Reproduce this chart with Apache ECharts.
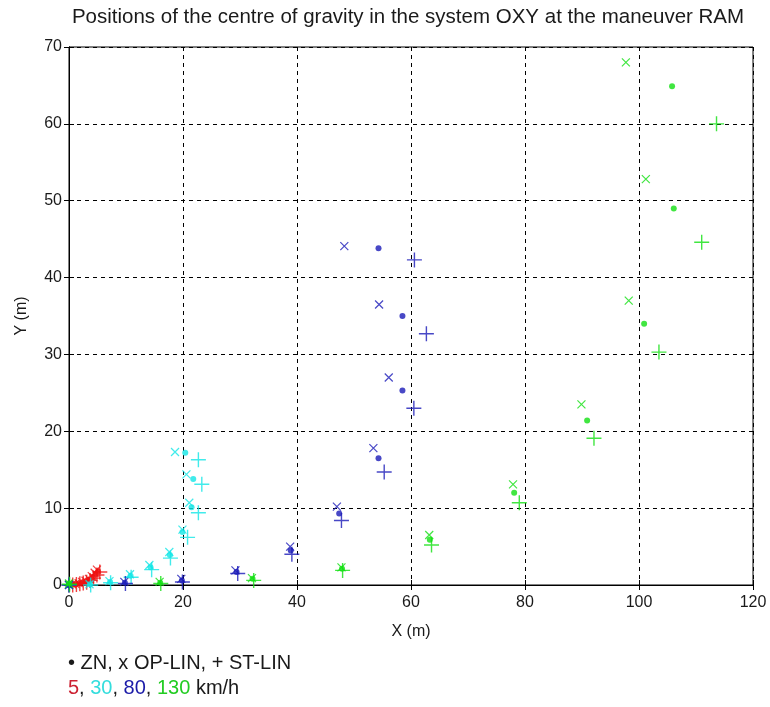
<!DOCTYPE html>
<html>
<head>
<meta charset="utf-8">
<script src="https://cdn.jsdelivr.net/npm/echarts@6/dist/echarts.min.js"></script>
<style>html,body{margin:0;padding:0;background:#fff;}#c{width:770px;height:707px;}</style>
</head>
<body>
<div id="c"></div>
<script>
// ---- data (X m, Y m) ----
var xTicks = [0, 20, 40, 60, 80, 100, 120];
var yTicks = [0, 10, 20, 30, 40, 50, 60, 70];

// 5 km/h
var red_ZN = [[0,0],[0.6,0.05],[1.2,0.1],[1.8,0.2],[2.4,0.3],[3.0,0.45],[3.6,0.7],[4.2,1.0],[4.7,1.4],[5.1,1.8]];
var red_OP = [[0,0.05],[0.55,0.1],[1.1,0.15],[1.7,0.25],[2.3,0.4],[2.9,0.55],[3.5,0.8],[4.0,1.15],[4.5,1.6],[4.9,2.0]];
var red_ST = [[0,0],[0.65,0],[1.3,0.05],[1.9,0.15],[2.5,0.25],[3.1,0.35],[3.7,0.6],[4.3,0.9],[4.9,1.3],[5.4,1.7]];
// 30 km/h
var cyan_ZN = [[0,0],[3.7,0.1],[7.2,0.4],[10.8,1.2],[14.3,2.3],[17.7,3.9],[19.9,6.9],[21.5,10.1],[21.8,13.8],[20.4,17.2]];
var cyan_OP = [[0,0],[3.6,0.1],[7.1,0.5],[10.7,1.4],[14.1,2.6],[17.6,4.3],[19.9,7.2],[21.1,10.7],[20.6,14.4],[18.6,17.3]];
var cyan_ST = [[0,0],[3.8,0],[7.3,0.3],[10.9,1.0],[14.5,2.0],[17.8,3.5],[20.8,6.2],[22.7,9.4],[23.3,13.1],[22.7,16.3]];
// 80 km/h
var blue_ZN = [[0,0],[9.8,0.3],[19.8,0.6],[29.4,1.7],[38.9,4.5],[47.4,9.3],[54.3,16.5],[58.5,25.3],[58.5,35.0],[54.3,43.8]];
var blue_OP = [[0,0],[9.7,0.4],[19.7,0.8],[29.2,1.9],[38.8,5.0],[47.0,10.2],[53.4,17.8],[56.1,27.0],[54.4,36.5],[48.3,44.1]];
var blue_ST = [[0,0],[9.9,0.2],[19.9,0.4],[29.6,1.5],[39.1,4.0],[47.8,8.4],[55.3,14.7],[60.5,23.0],[62.7,32.7],[60.6,42.3]];
// 130 km/h
var green_ZN = [[0,0.2],[16.0,0.3],[32.2,0.8],[47.9,2.1],[63.3,5.9],[78.1,12.0],[90.9,21.4],[100.9,34.0],[106.1,49.0],[105.8,64.9]];
var green_OP = [[0,0.2],[15.9,0.4],[32.1,0.9],[47.8,2.3],[63.2,6.5],[77.9,13.1],[89.9,23.5],[98.2,37.0],[101.2,52.8],[97.7,68.0]];
var green_ST = [[0.1,0.1],[16.1,0.2],[32.4,0.6],[48.0,1.9],[63.6,5.2],[79.0,10.7],[92.1,19.1],[103.5,30.3],[111.0,44.6],[113.6,60.0]];

var speeds = ['5', '30', '80', '130'];
var colors = ['#ee1111', '#11e6e6', '#1a1ab8', '#11e011'];
var groups = [
  [red_ZN, red_OP, red_ST],
  [cyan_ZN, cyan_OP, cyan_ST],
  [blue_ZN, blue_OP, blue_ST],
  [green_ZN, green_OP, green_ST]
];

var FONT = '"Liberation Sans", Arial, sans-serif';
var TXT = '#1a1a1a';

var series = [];
groups.forEach(function (g, i) {
  var c = colors[i];
  series.push({
    type: 'scatter', name: speeds[i] + ' ZN', data: g[0],
    symbol: 'circle', symbolSize: 6,
    itemStyle: { color: c }
  });
  series.push({
    type: 'scatter', name: speeds[i] + ' OP-LIN', data: g[1],
    symbol: 'path://M0,0L10,10M10,0L0,10', symbolSize: 8,
    itemStyle: { color: 'rgba(0,0,0,0)', borderColor: c, borderWidth: 1.2 }
  });
  series.push({
    type: 'scatter', name: speeds[i] + ' ST-LIN', data: g[2],
    symbol: 'path://M5,0L5,10M0,5L10,5', symbolSize: 15,
    itemStyle: { color: 'rgba(0,0,0,0)', borderColor: c, borderWidth: 1.4 }
  });
});

var chart = echarts.init(document.getElementById('c'), null, { renderer: 'canvas' });
var gridLeft = 69, gridRight = 17, gridTop = 47, gridBottom = 122;
var plotCx = gridLeft + (770 - gridLeft - gridRight) / 2;
var plotCy = gridTop + (707 - gridTop - gridBottom) / 2;

function axisCommon(extra) {
  var o = {
    type: 'value',
    axisLine: { show: true, lineStyle: { color: '#000', width: 1 } },
    axisTick: { show: true, inside: true, length: 5, lineStyle: { color: '#000' } },
    splitLine: { show: false },
    axisLabel: { show: false }
  };
  for (var k in extra) o[k] = extra[k];
  return o;
}

chart.setOption({
  animation: false,
  backgroundColor: '#fff',
  grid: { left: gridLeft, right: gridRight, top: gridTop, bottom: gridBottom, show: true, borderColor: '#000', borderWidth: 1, backgroundColor: '#fff' },
  xAxis: [
    axisCommon({
      min: xTicks[0], max: xTicks[xTicks.length - 1], interval: 20, position: 'bottom',
      splitLine: { show: true, lineStyle: { color: '#000', type: [4, 4], width: 1 } },
      axisLabel: { show: true, color: TXT, fontSize: 16, fontFamily: FONT, margin: 10 }
    }),
    axisCommon({ min: xTicks[0], max: xTicks[xTicks.length - 1], interval: 20, position: 'top' })
  ],
  yAxis: [
    axisCommon({
      min: yTicks[0], max: yTicks[yTicks.length - 1], interval: 10, position: 'left',
      splitLine: { show: true, lineStyle: { color: '#000', type: [4, 4], width: 1 } },
      axisLabel: { show: true, color: TXT, fontSize: 16, fontFamily: FONT, margin: 7 }
    }),
    axisCommon({ min: yTicks[0], max: yTicks[yTicks.length - 1], interval: 10, position: 'right' })
  ],
  series: series,
  graphic: [
    { type: 'text', x: 408, y: 17, style: { text: 'Positions of the centre of gravity in the system OXY at the maneuver RAM', fill: TXT, font: '20.5px ' + FONT, textAlign: 'center', textVerticalAlign: 'middle' } },
    { type: 'text', x: plotCx, y: 632, style: { text: 'X (m)', fill: TXT, font: '16px ' + FONT, textAlign: 'center', textVerticalAlign: 'middle' } },
    { type: 'text', x: 22, y: plotCy, rotation: Math.PI / 2, style: { text: 'Y (m)', fill: TXT, font: '16px ' + FONT, textAlign: 'center', textVerticalAlign: 'middle' } },
    { type: 'text', x: 68, y: 663, style: { text: '\u2022 ZN, x OP-LIN, + ST-LIN', fill: TXT, font: '20px ' + FONT, textAlign: 'left', textVerticalAlign: 'middle' } },
    { type: 'text', x: 68, y: 688, style: {
        text: '{r|' + speeds[0] + '}{k|, }{c|' + speeds[1] + '}{k|, }{b|' + speeds[2] + '}{k|, }{g|' + speeds[3] + '}{k| km/h}',
        font: '20px ' + FONT, textAlign: 'left', textVerticalAlign: 'middle',
        rich: {
          r: { fill: '#cc2233', font: '20px ' + FONT },
          c: { fill: '#33dddd', font: '20px ' + FONT },
          b: { fill: '#1a1aa8', font: '20px ' + FONT },
          g: { fill: '#22cc22', font: '20px ' + FONT },
          k: { fill: TXT, font: '20px ' + FONT }
        }
      } }
  ]
});
</script>
</body>
</html>
